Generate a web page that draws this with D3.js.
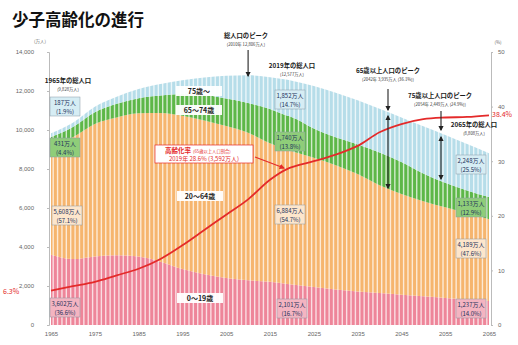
<!DOCTYPE html>
<html>
<head>
<meta charset="utf-8">
<script src="https://cdn.jsdelivr.net/npm/d3@7"></script>
<style>
  body { margin: 0; background: #fff; }
  svg { font-family: "Noto Sans CJK JP", "Noto Sans", sans-serif; }
  .tick text { fill: #666; font-size: 6px; }
  .tick line { stroke: #bbb; }
  .domain { stroke: #bbb; }
</style>
</head>
<body>
<div id="graph"></div>
<script>
const w = 518;
const h = 345;

// 万人, 5年ごと (2019は実績値ラベルの年)
const years   = [1965, 1970, 1975, 1980, 1985, 1990, 1995, 2000, 2005, 2010, 2015, 2019, 2020, 2025, 2030, 2035, 2040, 2045, 2050, 2055, 2060, 2065];
const age0_19  = [3602, 3380, 3519, 3578, 3508, 3249, 2867, 2607, 2413, 2293, 2221, 2101, 2071, 1943, 1823, 1723, 1637, 1553, 1469, 1390, 1313, 1237];
const age20_64 = [5608, 6253, 6788, 7063, 7350, 7623, 7864, 7882, 7788, 7565, 7101, 6884, 6842, 6634, 6374, 6017, 5534, 5170, 4882, 4650, 4431, 4189];
const age65_74 = [431, 516, 603, 699, 776, 892, 1109, 1303, 1412, 1529, 1755, 1740, 1747, 1497, 1428, 1522, 1681, 1642, 1424, 1258, 1153, 1133];
const age75    = [187, 224, 284, 366, 471, 597, 717, 901, 1164, 1419, 1632, 1852, 1872, 2180, 2288, 2260, 2239, 2277, 2417, 2446, 2387, 2248];
// 高齢化率 (%)
const agingRate = [6.3, 7.1, 7.9, 9.1, 10.3, 12.1, 14.6, 17.4, 20.2, 23.0, 26.6, 28.6, 28.9, 30.0, 31.2, 32.8, 35.3, 36.8, 37.7, 38.0, 38.1, 38.4];

const keys = ["a0", "a20", "a65", "a75"];
const colors = { a0: "#ee8599", a20: "#f6b56e", a65: "#5db748", a75: "#b6dde9" };
const xTicks = [1965, 1975, 1985, 1995, 2005, 2015, 2025, 2035, 2045, 2055, 2065];

const rows = years.map((y, i) => ({ year: y, a0: age0_19[i], a20: age20_64[i], a65: age65_74[i], a75: age75[i] }));

const xScale = d3.scaleLinear().domain([1965, 2065]).range([51, 489]);
const yScale = d3.scaleLinear().domain([0, 14000]).range([325, 52]);
const rScale = d3.scaleLinear().domain([0, 50]).range([325, 52]);

const svg = d3.select("#graph").append("svg").attr("width", w).attr("height", h);

svg.append("text").attr("x", 12).attr("y", 26).attr("font-size", 16.5).attr("font-weight", "bold")
  .attr("fill", "#111").text("少子高齢化の進行");

// stacked areas
const stack = d3.stack().keys(keys);
const series = stack(rows);
const area = d3.area().curve(d3.curveMonotoneX)
  .x(d => xScale(d.data.year)).y0(d => yScale(d[0])).y1(d => yScale(d[1]));

svg.append("g").selectAll("path").data(series).enter().append("path")
  .attr("d", area).attr("fill", d => colors[d.key]);

// white gaps between the yearly bars
const allYears = d3.range(1965, 2066);
svg.append("g").selectAll("rect").data(allYears.slice(0, -1)).enter().append("rect")
  .attr("x", d => xScale(d + 0.5) - 0.7).attr("y", 60).attr("width", 1.4).attr("height", 265)
  .attr("fill", "#fff").attr("opacity", 0.72);

// axes
svg.append("g").attr("transform", "translate(49,0)")
  .call(d3.axisLeft(yScale).tickValues(d3.range(0, 14001, 2000)).tickSize(2).tickPadding(13).tickFormat(d3.format(",")));
svg.append("g").attr("transform", "translate(491,0)")
  .call(d3.axisRight(rScale).tickValues([0, 10, 20, 30, 40, 50]).tickSize(2).tickPadding(5));
svg.append("g").attr("transform", "translate(0,325)")
  .call(d3.axisBottom(xScale).tickValues(xTicks).tickSize(0).tickPadding(7).tickFormat(d3.format("d")))
  .select(".domain").remove();

svg.append("text").attr("x", 40).attr("y", 43).attr("font-size", 4.5).attr("fill", "#666").attr("text-anchor", "middle").text("(万人)");
svg.append("text").attr("x", 498).attr("y", 44).attr("font-size", 4.5).attr("fill", "#666").attr("text-anchor", "middle").text("(%)");

// aging rate line
const line = d3.line().curve(d3.curveMonotoneX).x((d, i) => xScale(years[i])).y(d => rScale(d));
svg.append("path").datum(agingRate).attr("d", line).attr("fill", "none").attr("stroke", "#e42a2a").attr("stroke-width", 1.8);

svg.append("text").attr("x", 3).attr("y", rScale(6.3) + 3).attr("font-size", 7).attr("fill", "#e42a2a").text("6.3%");
svg.append("text").attr("x", 492).attr("y", rScale(38.4) + 2).attr("font-size", 7).attr("fill", "#e42a2a").text("38.4%");

// arrows
const defs = svg.append("defs");
function marker(id, color) {
  defs.append("marker").attr("id", id).attr("viewBox", "0 0 10 10").attr("refX", 8).attr("refY", 5)
    .attr("markerWidth", 5).attr("markerHeight", 5).attr("orient", "auto-start-reverse")
    .append("path").attr("d", "M0,0L10,5L0,10z").attr("fill", color);
}
marker("ah", "#222");
marker("ahr", "#e42a2a");
function arrow(x1, y1, x2, y2, both, color) {
  const l = svg.append("line").attr("x1", x1).attr("y1", y1).attr("x2", x2).attr("y2", y2)
    .attr("stroke", color || "#222").attr("stroke-width", 1.1)
    .attr("marker-end", "url(#" + (color ? "ahr" : "ah") + ")");
  if (both) l.attr("marker-start", "url(#ah)");
}
arrow(xScale(2010), 50, xScale(2010), 76);
arrow(388, 89, 388, 110);
arrow(388, 116, 388, 188, true);
arrow(441, 111, 441, 130);
arrow(441, 137, 441, 179, true);
arrow(255, 157, 284, 168, false, "#e42a2a");

// titles / annotations
function note(x, y, big, small) {
  svg.append("text").attr("x", x).attr("y", y).attr("text-anchor", "middle").attr("font-size", 6.3)
    .attr("font-weight", "bold").attr("fill", "#1a1a1a").text(big);
  svg.append("text").attr("x", x).attr("y", y + 7.8).attr("text-anchor", "middle").attr("font-size", 4.2)
    .attr("fill", "#333").text(small);
}
note(246, 38, "総人口のピーク", "(2010年 12,806万人)");
note(68, 83, "1965年の総人口", "(9,828万人)");
note(292, 68, "2019年の総人口", "(12,577万人)");
note(388, 73, "65歳以上人口のピーク", "(2042年 3,935万人 (36.1%))");
note(440, 98, "75歳以上人口のピーク", "(2054年 2,449万人 (24.9%))");
note(474, 127, "2065年の総人口", "(8,808万人)");

// value boxes
function box(cx, y, l1, l2, fill) {
  svg.append("rect").attr("x", cx - 15).attr("y", y).attr("width", 30).attr("height", 19)
    .attr("fill", fill).attr("stroke", "#8a9aa6").attr("stroke-width", 0.5);
  svg.append("text").attr("x", cx).attr("y", y + 8).attr("text-anchor", "middle").attr("font-size", 6)
    .attr("fill", "#22305a").text(l1);
  svg.append("text").attr("x", cx).attr("y", y + 16.5).attr("text-anchor", "middle").attr("font-size", 6)
    .attr("fill", "#22305a").text(l2);
}
box(65, 97, "187万人", "(1.9%)", "#d6edf4");
box(65, 138, "431万人", "(4.4%)", "#8fcd79");
box(67, 206, "5,608万人", "(57.1%)", "#fde6cc");
box(65, 298, "3,602万人", "(36.6%)", "#f4b4c1");
box(290, 90, "1,852万人", "(14.7%)", "#d6edf4");
box(290, 132, "1,740万人", "(13.8%)", "#8fcd79");
box(290, 205, "6,884万人", "(54.7%)", "#fde6cc");
box(292, 299, "2,101万人", "(16.7%)", "#f4b4c1");
box(471, 155, "2,248万人", "(25.5%)", "#d6edf4");
box(471, 198, "1,133万人", "(12.9%)", "#8fcd79");
box(471, 239, "4,189万人", "(47.6%)", "#fde6cc");
box(471, 299, "1,237万人", "(14.0%)", "#f4b4c1");

// age group labels
function ageLabel(cx, y, t) {
  svg.append("rect").attr("x", cx - 23).attr("y", y - 7).attr("width", 46).attr("height", 10)
    .attr("fill", "#fff").attr("opacity", 0.95);
  svg.append("text").attr("x", cx).attr("y", y + 1).attr("text-anchor", "middle").attr("font-size", 7)
    .attr("font-weight", "bold").attr("fill", "#222").text(t);
}
ageLabel(199, 93, "75歳〜");
ageLabel(199, 112, "65〜74歳");
ageLabel(200, 198, "20〜64歳");
ageLabel(200, 300, "0〜19歳");

// aging rate label
svg.append("rect").attr("x", 155).attr("y", 145).attr("width", 98).attr("height", 18)
  .attr("fill", "#fff").attr("stroke", "#e42a2a").attr("stroke-width", 0.7);
svg.append("text").attr("x", 165).attr("y", 153).attr("font-size", 6.5).attr("font-weight", "bold")
  .attr("fill", "#e42a2a").text("高齢化率");
svg.append("text").attr("x", 193).attr("y", 153).attr("font-size", 4.3).attr("fill", "#e42a2a").text("(65歳以上人口割合)");
svg.append("text").attr("x", 204).attr("y", 160.5).attr("text-anchor", "middle").attr("font-size", 6)
  .attr("fill", "#e42a2a").text("2019年 28.6% (3,592万人)");
</script>
</body>
</html>
